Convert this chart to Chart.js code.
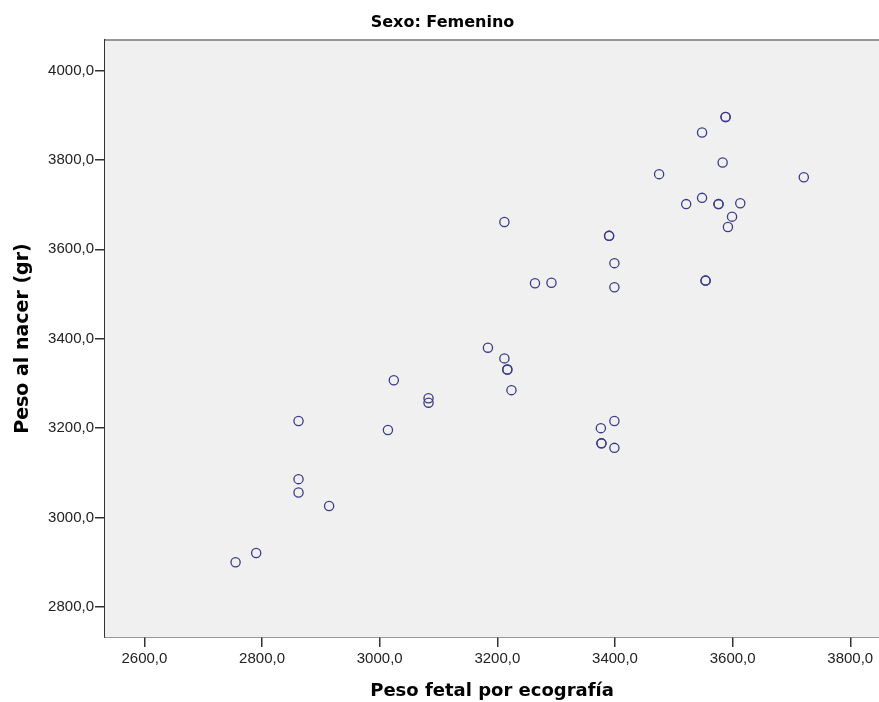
<!DOCTYPE html>
<html>
<head>
<meta charset="utf-8">
<script src="https://cdn.jsdelivr.net/npm/chart.js@4/dist/chart.umd.min.js"></script>
<style>
    body { margin: 0; background: #fff; overflow: hidden; }
</style>
</head>
<body>
<!-- a little wider than the window so the plot box runs off the right edge like the original -->
<canvas id="scatter" width="885" height="702"></canvas>
<script>
// Peso fetal por ecografía (x) vs peso al nacer (y), sexo femenino
const fetalWeight = [
    3588, 3588, 3548, 3583, 3475, 3721, 3521, 3548, 3576, 3576,
    3613, 3599, 3592, 3212, 3390, 3390, 3399, 3264, 3292, 3399,
    3554, 3554, 3184, 3212, 3217, 3217, 3224, 3024, 3083, 3083,
    2862, 3014, 2862, 2862, 2914, 2790, 2755, 3399, 3376, 3377,
    3377, 3399
];
const birthWeight = [
    3896, 3896, 3861, 3794, 3768, 3761, 3701, 3715, 3701, 3701,
    3703, 3673, 3650, 3661, 3630, 3630, 3569, 3524, 3525, 3515,
    3530, 3530, 3380, 3356, 3331, 3331, 3285, 3307, 3267, 3257,
    3216, 3196, 3086, 3056, 3026, 2921, 2900, 3216, 3200, 3166,
    3166, 3156
];
const xTicks = [2600, 2800, 3000, 3200, 3400, 3600, 3800];
const yTicks = [2800, 3000, 3200, 3400, 3600, 3800, 4000];

const points = fetalWeight.map((x, i) => ({ x: x, y: birthWeight[i] }));
const fmt = v => v.toFixed(1).replace('.', ',');

// grey plot background + thin top frame
const plotBg = {
    id: 'plotBg',
    beforeDatasetsDraw(chart) {
        const a = chart.chartArea;
        const ctx = chart.ctx;
        ctx.save();
        ctx.fillStyle = '#f0f0f0';
        ctx.fillRect(a.left, a.top, a.right - a.left, a.bottom - a.top);
        ctx.strokeStyle = '#777';
        ctx.lineWidth = 1.5;
        ctx.beginPath();
        ctx.moveTo(a.left, a.top);
        ctx.lineTo(a.right, a.top);
        ctx.stroke();
        ctx.restore();
    }
};

const tickFont = { family: 'Liberation Sans, Arial, sans-serif', size: 15 };
const boldFamily = 'DejaVu Sans, sans-serif';

// keep the plot box fixed: 105px left axis, 65px bottom axis
function fixX(s) { s.height = 65; }
function fixY(s) { s.width = 105; }

new Chart(document.getElementById('scatter'), {
    type: 'scatter',
    data: {
        datasets: [{
            data: points,
            backgroundColor: 'rgba(0,0,0,0)',
            borderColor: '#3a3a8c',
            borderWidth: 1.3,
            pointRadius: 4.6,
            pointHoverRadius: 4.6
        }]
    },
    options: {
        responsive: false,
        animation: false,
        layout: { padding: 0 },
        plugins: {
            legend: { display: false },
            tooltip: { enabled: false },
            title: {
                display: true,
                text: 'Sexo: Femenino',
                color: '#000',
                font: { family: boldFamily, size: 16, weight: 'bold' },
                padding: { top: 13.4, bottom: 7.4 }
            }
        },
        scales: {
            x: {
                type: 'linear',
                min: 2533,
                max: 3849,
                afterBuildTicks: s => { s.ticks = xTicks.map(v => ({ value: v })); },
                afterFit: fixX,
                ticks: { callback: v => fmt(v), color: '#222', font: tickFont, padding: 3, maxRotation: 0 },
                grid: { drawOnChartArea: false, drawTicks: true, tickLength: 10, color: '#333', lineWidth: 1.5 },
                border: { display: true, color: '#333', width: 1.5 },
                title: { display: true, text: 'Peso fetal por ecografía', color: '#000', font: { family: boldFamily, size: 18, weight: 'bold' }, padding: { top: 0, bottom: 0 } }
            },
            y: {
                type: 'linear',
                min: 2733,
                max: 4068,
                afterBuildTicks: s => { s.ticks = yTicks.map(v => ({ value: v })); },
                afterFit: fixY,
                ticks: { callback: v => fmt(v), color: '#222', font: tickFont, padding: 1 },
                grid: { drawOnChartArea: false, drawTicks: true, tickLength: 10, color: '#333', lineWidth: 1.5 },
                border: { display: true, color: '#333', width: 1.5 },
                title: { display: true, text: 'Peso al nacer (gr)', color: '#000', font: { family: boldFamily, size: 19, weight: 'bold' }, padding: { top: 11.5, bottom: 0 } }
            }
        }
    },
    plugins: [plotBg]
});
</script>
</body>
</html>
